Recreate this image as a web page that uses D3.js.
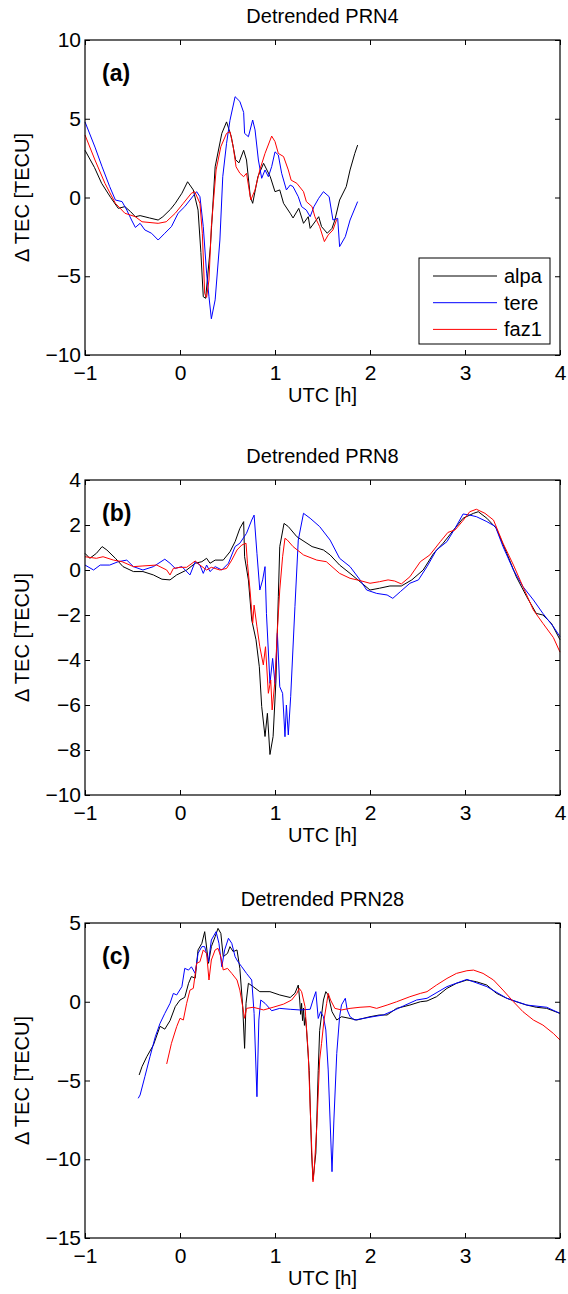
<!DOCTYPE html>
<html>
<head>
<meta charset="utf-8">
<script src="https://cdn.jsdelivr.net/npm/d3@7"></script>
<style>
body { margin: 0; background: #fff; }
svg text { font-family: "Liberation Sans", Arial, Helvetica, sans-serif; fill: #000; }
</style>
</head>
<body>
<svg width="568" height="1294"></svg>
<script>
// station names and colours
var stations = ["alpa", "tere", "faz1"];
var colors = ["#000000", "#0000ff", "#ff0000"];

var xTicks = [-1, 0, 1, 2, 3, 4];

// PRN4, [UTC h, dTEC]
var prn4Alpa = [[-1,3.0],[-0.9,1.9],[-0.825,0.9],[-0.73,0.0],[-0.65,-0.69],[-0.58,-0.58],[-0.52,-0.9],[-0.47,-1.22],[-0.42,-1.15],[-0.32,-1.3],[-0.23,-1.43],[-0.18,-1.22],[-0.1,-0.75],[-0.05,-0.37],[0.02,0.27],[0.08,1.0],[0.14,0.48],[0.19,-0.8],[0.22,-3.5],[0.245,-6.3],[0.27,-6.4],[0.32,-3.1],[0.37,1.95],[0.44,4.07],[0.49,4.8],[0.54,3.86],[0.585,2.4],[0.62,2.2],[0.67,3.0],[0.70,2.38],[0.74,0.05],[0.765,-0.37],[0.82,1.32],[0.88,2.17],[0.95,1.32],[1.0,0.37],[1.05,0.48],[1.09,-0.37],[1.16,-1.0],[1.19,-1.3],[1.25,-0.69],[1.30,-1.64],[1.35,-1.22],[1.37,-1.96],[1.46,-1.22],[1.49,-1.85],[1.55,-2.27],[1.60,-1.96],[1.63,-1.43],[1.68,-0.16],[1.75,0.69],[1.79,1.75],[1.84,2.8],[1.87,3.33]];
var prn4Tere = [[-1,4.8],[-0.895,3.2],[-0.82,1.95],[-0.74,0.69],[-0.68,-0.16],[-0.61,-0.26],[-0.56,-0.8],[-0.51,-1.43],[-0.47,-1.9],[-0.42,-1.64],[-0.37,-2.06],[-0.30,-2.27],[-0.23,-2.7],[-0.16,-2.27],[-0.09,-1.85],[-0.02,-1.0],[0.05,-0.58],[0.105,-0.16],[0.175,0.37],[0.21,0.05],[0.245,-1.85],[0.28,-4.8],[0.305,-6.3],[0.33,-7.7],[0.37,-6.5],[0.42,-2.7],[0.45,1.32],[0.49,3.44],[0.526,4.9],[0.58,6.4],[0.63,6.1],[0.67,5.4],[0.68,4.07],[0.72,3.86],[0.765,4.92],[0.79,4.29],[0.825,2.38],[0.86,1.22],[0.895,1.75],[0.93,1.32],[0.965,1.96],[1.0,2.9],[1.035,2.7],[1.07,1.54],[1.12,0.48],[1.16,0.79],[1.19,0.69],[1.245,0.05],[1.28,-0.58],[1.33,-0.8],[1.37,-1.22],[1.41,-0.58],[1.46,-0.05],[1.51,0.37],[1.57,0.05],[1.61,-1.43],[1.66,-1.32],[1.68,-3.12],[1.74,-2.49],[1.79,-1.43],[1.87,-0.26]];
var prn4Faz1 = [[-1,3.97],[-0.895,2.38],[-0.79,0.9],[-0.68,-0.37],[-0.58,-1.0],[-0.47,-1.22],[-0.40,-1.54],[-0.23,-1.64],[-0.145,-1.54],[-0.05,-1.0],[0.035,-0.37],[0.12,0.27],[0.155,0.37],[0.21,-0.37],[0.235,-2.27],[0.26,-6.1],[0.28,-6.34],[0.305,-5.24],[0.33,-1.85],[0.38,1.75],[0.43,3.23],[0.49,4.07],[0.526,4.18],[0.56,3.23],[0.59,1.95],[0.63,1.54],[0.67,1.32],[0.70,1.54],[0.745,-0.16],[0.79,0.48],[0.84,1.75],[0.895,2.8],[0.965,3.9],[1.0,3.55],[1.035,2.8],[1.09,2.6],[1.14,1.75],[1.17,1.1],[1.23,0.9],[1.30,0.37],[1.33,-0.26],[1.39,-0.58],[1.42,-1.22],[1.47,-1.85],[1.52,-2.8],[1.56,-2.38],[1.61,-2.06],[1.65,-1.38]];

// PRN8
var prn8Alpa = [[-1,0.74],[-0.95,0.52],[-0.88,0.74],[-0.82,1.04],[-0.77,0.89],[-0.68,0.52],[-0.6,0.15],[-0.49,-0.07],[-0.39,-0.07],[-0.28,-0.22],[-0.19,-0.41],[-0.105,-0.44],[-0.035,-0.22],[0.07,0],[0.16,0.3],[0.23,0.37],[0.28,0.52],[0.316,0.3],[0.37,0.44],[0.455,0.44],[0.526,0.81],[0.58,1.26],[0.63,1.85],[0.67,2.15],[0.68,0.59],[0.72,-0.44],[0.755,-2.22],[0.80,-3.1],[0.835,-4.3],[0.86,-6.07],[0.895,-7.4],[0.92,-6.37],[0.947,-8.2],[0.98,-7.4],[1.01,-4.9],[1.035,-1.19],[1.05,1.04],[1.095,2.07],[1.14,1.93],[1.23,1.48],[1.39,1.04],[1.51,0.89],[1.58,0.67],[1.68,0.22],[1.79,-0.15],[1.895,-0.52],[2.0,-0.89],[2.1,-0.81],[2.21,-0.71],[2.33,-0.71],[2.44,-0.44],[2.56,0],[2.67,0.74],[2.77,1.19],[2.88,1.78],[2.98,2.3],[3.09,2.52],[3.14,2.59],[3.23,2.3],[3.33,1.85],[3.44,0.74],[3.54,-0.3],[3.65,-1.19],[3.75,-1.93],[3.82,-2.0],[3.91,-2.37],[4.0,-3.1]];
var prn8Tere = [[-1,0.22],[-0.91,0],[-0.84,0.22],[-0.74,0.22],[-0.65,0.37],[-0.56,0.44],[-0.49,0.15],[-0.39,0],[-0.28,0.15],[-0.16,0.48],[-0.105,0.3],[-0.05,0.07],[0.02,0.15],[0.105,-0.22],[0.16,0.37],[0.21,0.22],[0.245,-0.15],[0.28,0.22],[0.316,-0.07],[0.37,0.15],[0.44,0],[0.51,0.3],[0.58,1.04],[0.63,1.19],[0.70,1.63],[0.755,2.22],[0.78,2.44],[0.81,0.74],[0.84,-0.89],[0.87,-0.44],[0.895,0.15],[0.91,-1.93],[0.947,-5.04],[0.975,-3.93],[1.0,-5.04],[1.025,-2.81],[1.05,-5.19],[1.08,-5.48],[1.105,-7.41],[1.12,-6.0],[1.14,-7.33],[1.165,-5.63],[1.21,-1.63],[1.245,1.33],[1.30,2.52],[1.37,2.3],[1.47,1.93],[1.58,1.33],[1.68,0.52],[1.79,0.15],[1.895,-0.44],[1.965,-0.89],[2.07,-1.04],[2.18,-1.11],[2.24,-1.26],[2.32,-0.96],[2.42,-0.59],[2.51,-0.44],[2.60,0.15],[2.70,0.89],[2.81,1.26],[2.895,1.85],[2.98,2.49],[3.05,2.44],[3.12,2.37],[3.23,2.15],[3.32,1.93],[3.40,1.04],[3.51,0],[3.61,-0.74],[3.72,-1.33],[3.82,-1.93],[3.93,-2.52],[4.0,-2.96]];
var prn8Faz1 = [[-1,0.59],[-0.88,0.52],[-0.81,0.59],[-0.70,0.44],[-0.61,0.37],[-0.49,0.15],[-0.39,0.18],[-0.245,0.22],[-0.14,0],[-0.105,-0.22],[-0.07,0.07],[0,0.12],[0.07,0.12],[0.16,0.4],[0.21,0.22],[0.28,0],[0.33,0.12],[0.42,0],[0.49,0.07],[0.545,0.44],[0.60,0.89],[0.65,1.11],[0.695,1.19],[0.71,0.3],[0.737,-0.89],[0.765,-2.37],[0.78,-1.56],[0.81,-2.52],[0.84,-3.41],[0.877,-4.22],[0.90,-3.41],[0.93,-5.48],[0.955,-4.89],[0.97,-6.22],[1.0,-4.89],[1.025,-2.67],[1.05,-0.89],[1.08,0.59],[1.105,1.41],[1.13,1.33],[1.19,1.04],[1.30,0.67],[1.44,0.44],[1.54,0.37],[1.68,-0.15],[1.79,-0.37],[1.895,-0.47],[2.0,-0.59],[2.1,-0.52],[2.19,-0.44],[2.26,-0.49],[2.33,-0.62],[2.42,-0.3],[2.53,0.37],[2.63,0.67],[2.74,1.26],[2.82,1.67],[2.895,1.78],[2.97,2.15],[3.05,2.59],[3.12,2.7],[3.21,2.52],[3.30,2.22],[3.40,1.19],[3.51,0.22],[3.61,-0.74],[3.72,-1.78],[3.82,-2.37],[3.93,-3.0],[4.0,-3.65]];

// PRN28
var prn28Alpa = [[-0.43,-4.65],[-0.40,-4.12],[-0.35,-3.49],[-0.28,-2.75],[-0.21,-1.56],[-0.16,-1.74],[-0.105,-1.2],[-0.05,-0.31],[0.0,0.11],[0.05,0.28],[0.09,1.17],[0.12,1.6],[0.16,1.5],[0.19,3.29],[0.23,3.71],[0.26,4.45],[0.30,2.44],[0.33,3.5],[0.37,4.13],[0.40,4.66],[0.43,4.34],[0.455,2.86],[0.50,3.07],[0.526,3.5],[0.56,3.18],[0.60,3.29],[0.63,2.12],[0.66,-0.31],[0.68,-2.96],[0.695,-0.1],[0.72,1.17],[0.77,0.96],[0.84,0.64],[0.947,0.64],[1.05,0.43],[1.16,0.27],[1.21,0.54],[1.245,1.06],[1.26,0.11],[1.27,-0.8],[1.28,-0.1],[1.29,-1.2],[1.30,-0.4],[1.31,-1.5],[1.32,-1.0],[1.33,-1.6],[1.36,-4.37],[1.385,-9.6],[1.40,-11.3],[1.43,-9.6],[1.455,-4.37],[1.47,-1.83],[1.51,0.11],[1.535,0.64],[1.56,0.43],[1.60,-0.63],[1.65,-1.16],[1.70,-0.95],[1.79,-1.06],[1.86,-1.16],[2.0,-0.95],[2.1,-0.84],[2.18,-0.84],[2.28,-0.42],[2.42,-0.21],[2.53,0],[2.6,0.05],[2.70,0.32],[2.81,0.85],[2.91,1.17],[3.02,1.38],[3.12,1.27],[3.23,1.06],[3.33,0.54],[3.44,0.22],[3.54,0],[3.65,-0.21],[3.75,-0.35],[3.86,-0.42],[4.0,-0.74]];
var prn28Tere = [[-0.44,-6.13],[-0.42,-5.92],[-0.37,-4.76],[-0.316,-3.49],[-0.26,-2.22],[-0.21,-1.37],[-0.16,-0.74],[-0.105,-0.1],[-0.07,0.53],[-0.035,0.43],[0.02,0.96],[0.05,2.12],[0.09,2.01],[0.12,2.22],[0.16,1.8],[0.19,3.07],[0.23,3.5],[0.26,3.5],[0.30,2.54],[0.33,3.92],[0.38,4.45],[0.41,3.71],[0.44,2.22],[0.47,3.29],[0.51,4.03],[0.545,3.71],[0.58,2.86],[0.61,2.54],[0.65,2.22],[0.70,1.8],[0.755,1.38],[0.78,-0.74],[0.81,-6.03],[0.83,-1.16],[0.85,0.11],[0.895,-0.1],[0.965,-0.57],[1.05,-0.42],[1.16,-0.48],[1.26,-0.52],[1.37,-0.48],[1.40,0.11],[1.43,0.64],[1.455,-1.06],[1.48,-0.63],[1.51,-0.95],[1.535,-1.79],[1.56,-4.33],[1.60,-10.79],[1.62,-7.51],[1.65,-3.28],[1.68,-0.95],[1.70,-0.2],[1.74,0.22],[1.76,-0.52],[1.79,-0.95],[1.84,-1.16],[1.93,-1.06],[2.03,-0.95],[2.14,-0.84],[2.245,-0.57],[2.35,-0.27],[2.49,0.11],[2.6,0.22],[2.81,0.96],[3.02,1.42],[3.23,0.96],[3.44,0.22],[3.65,-0.21],[3.86,-0.35],[4.0,-0.74]];
var prn28Faz1 = [[-0.14,-3.95],[-0.09,-2.64],[-0.035,-1.58],[0.0,-1.05],[0.035,-1.16],[0.07,-0.1],[0.105,0.74],[0.14,0.85],[0.175,2.44],[0.21,2.54],[0.245,3.29],[0.28,3.07],[0.305,1.38],[0.33,2.65],[0.37,3.29],[0.40,3.39],[0.43,2.86],[0.455,2.02],[0.50,2.12],[0.545,1.8],[0.60,1.38],[0.63,0.74],[0.66,-0.31],[0.68,-1.05],[0.70,-0.42],[0.77,-0.35],[0.88,-0.52],[0.98,-0.35],[1.09,-0.15],[1.175,0.11],[1.23,0.53],[1.255,0.85],[1.28,0.64],[1.316,-0.31],[1.35,-3.28],[1.375,-7.51],[1.40,-11.43],[1.41,-10.9],[1.44,-7.93],[1.47,-3.7],[1.49,-2.64],[1.516,-1.16],[1.544,-0.1],[1.56,0.53],[1.585,0.11],[1.63,-0.42],[1.70,-0.52],[1.79,-0.42],[1.895,-0.35],[2.0,-0.31],[2.07,-0.42],[2.18,-0.21],[2.28,0],[2.42,0.32],[2.53,0.53],[2.6,0.64],[2.70,1.06],[2.81,1.48],[2.91,1.8],[3.02,1.97],[3.09,2.01],[3.19,1.8],[3.30,1.38],[3.40,0.74],[3.51,0],[3.61,-0.63],[3.72,-1.16],[3.82,-1.48],[3.93,-2.01],[4.0,-2.43]];

var yTicksA = [-10, -5, 0, 5, 10];
var yTicksB = [-10, -8, -6, -4, -2, 0, 2, 4];
var yTicksC = [-15, -10, -5, 0, 5];

var svg = d3.select("svg"),
    left = 85, right = 560, plotH = 315, tick = 5,
    fmt = d3.format("d");

var panels = [
  {title: "Detrended PRN4", tag: "(a)", top: 40, ticks: yTicksA, series: [prn4Alpa, prn4Tere, prn4Faz1], legend: true},
  {title: "Detrended PRN8", tag: "(b)", top: 480, ticks: yTicksB, series: [prn8Alpa, prn8Tere, prn8Faz1]},
  {title: "Detrended PRN28", tag: "(c)", top: 923, ticks: yTicksC, series: [prn28Alpa, prn28Tere, prn28Faz1]}
];

var x = d3.scaleLinear().domain([-1, 4]).range([left, right]);

panels.forEach(function(p) {
  var y = d3.scaleLinear()
      .domain(d3.extent(p.ticks))
      .range([p.top + plotH, p.top]);

  var g = svg.append("g");

  var line = d3.line()
      .x(function(d) { return x(d[0]); })
      .y(function(d) { return y(d[1]); });

  g.selectAll(".trace")
    .data(p.series)
    .enter().append("path")
      .attr("d", line)
      .attr("fill", "none")
      .attr("stroke", function(d, i) { return colors[i]; })
      .attr("stroke-width", 1);

  // axes, ticks inside like matlab
  g.append("g")
      .attr("transform", "translate(0," + (p.top + plotH) + ")")
      .call(d3.axisBottom(x).tickValues(xTicks).tickFormat(fmt).tickSize(-tick).tickSizeOuter(0).tickPadding(10));
  g.append("g")
      .attr("transform", "translate(0," + p.top + ")")
      .call(d3.axisTop(x).tickValues(xTicks).tickSize(-tick).tickSizeOuter(0).tickFormat(""));
  g.append("g")
      .attr("transform", "translate(" + left + ",0)")
      .call(d3.axisLeft(y).tickValues(p.ticks).tickFormat(fmt).tickSize(-tick).tickSizeOuter(0).tickPadding(4));
  g.append("g")
      .attr("transform", "translate(" + right + ",0)")
      .call(d3.axisRight(y).tickValues(p.ticks).tickSize(-tick).tickSizeOuter(0).tickFormat(""));

  g.selectAll(".domain").remove();
  g.selectAll(".tick line").attr("stroke", "#000");
  g.selectAll(".tick text")
      .style("font-size", "21px")
      .attr("fill", "#000");

  g.append("rect")
      .attr("x", left).attr("y", p.top)
      .attr("width", right - left).attr("height", plotH)
      .attr("fill", "none").attr("stroke", "#000").attr("stroke-width", 1.2);

  g.append("text")
      .attr("x", (left + right) / 2).attr("y", p.top - 17)
      .attr("text-anchor", "middle")
      .style("font-size", "20px")
      .text(p.title);

  g.append("text")
      .attr("x", 102).attr("y", p.top + 41)
      .style("font-size", "23px").style("font-weight", "bold")
      .text(p.tag);

  g.append("text")
      .attr("x", (left + right) / 2).attr("y", p.top + plotH + 47)
      .attr("text-anchor", "middle")
      .style("font-size", "20px")
      .text("UTC [h]");

  g.append("text")
      .attr("transform", "translate(29," + (p.top + plotH / 2) + ") rotate(-90)")
      .attr("text-anchor", "middle")
      .style("font-size", "20px")
      .text("\u0394 TEC [TECU]");

  if (p.legend) {
    var lg = g.append("g").attr("transform", "translate(419," + (p.top + 218) + ")");
    lg.append("rect")
        .attr("width", 131).attr("height", 86)
        .attr("fill", "#fff").attr("stroke", "#000").attr("stroke-width", 1);
    var row = lg.selectAll(".row").data(stations).enter().append("g")
        .attr("transform", function(d, i) { return "translate(0," + (18 + i * 26.7) + ")"; });
    row.append("line")
        .attr("x1", 14).attr("x2", 78)
        .attr("stroke", function(d, i) { return colors[i]; })
        .attr("stroke-width", 1);
    row.append("text")
        .attr("x", 85).attr("y", 7)
        .style("font-size", "20px")
        .text(function(d) { return d; });
  }
});
</script>
</body>
</html>
